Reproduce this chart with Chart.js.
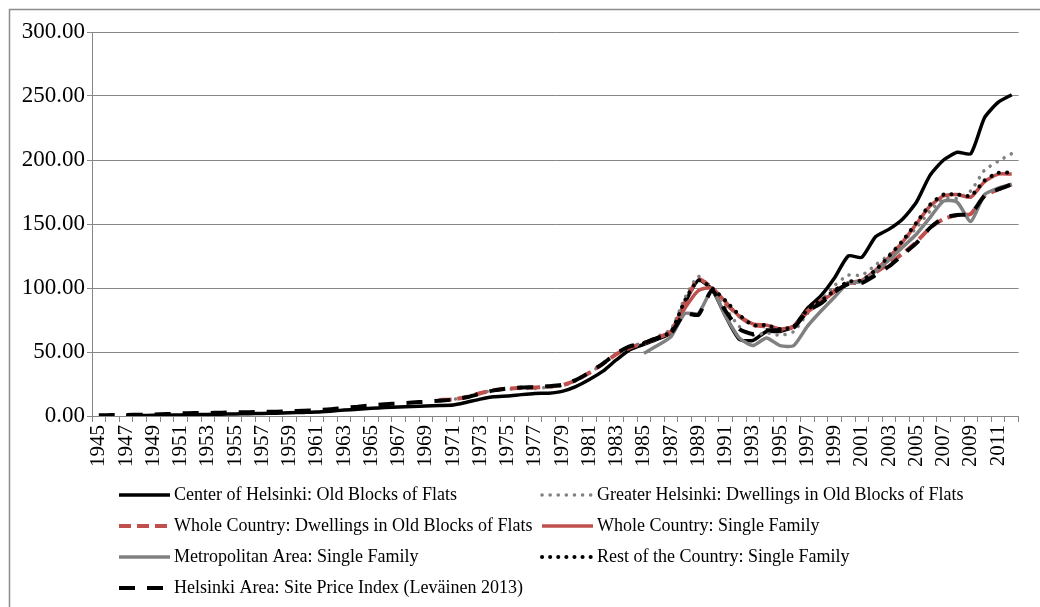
<!DOCTYPE html>
<html>
<head>
<meta charset="utf-8">
<script src="https://cdn.jsdelivr.net/npm/chart.js@4.4.1/dist/chart.umd.min.js"></script>
<style>
  html, body { margin: 0; padding: 0; background: #fff; }
  #wrap { width: 1040px; height: 607px; position: relative; }
</style>
</head>
<body>
<div id="wrap"><canvas id="priceChart" width="1040" height="607"></canvas></div>
<script>
// year categories on the x axis
const years = [
  '1945','1946','1947','1948','1949','1950','1951','1952','1953','1954',
  '1955','1956','1957','1958','1959','1960','1961','1962','1963','1964',
  '1965','1966','1967','1968','1969','1970','1971','1972','1973','1974',
  '1975','1976','1977','1978','1979','1980','1981','1982','1983','1984',
  '1985','1986','1987','1988','1989','1990','1991','1992','1993','1994',
  '1995','1996','1997','1998','1999','2000','2001','2002','2003','2004',
  '2005','2006','2007','2008','2009','2010','2011','2012'
];

// Center of Helsinki, 1947-2012
const centerHelsinki = [
  0.3, 0.4, 0.5, 0.6, 0.8, 1.0, 1.2, 1.4, 1.6, 1.8,
  2.0, 2.2, 2.5, 2.8, 3.1, 3.8, 4.6, 5.3, 6.0, 6.6,
  7.1, 7.5, 7.9, 8.2, 8.6, 10.8, 13.2, 15.0, 15.6, 16.7,
  17.6, 17.8, 19.2, 23.0, 28.5, 35.0, 44.0, 52.0, 56.0, 60.0,
  65, 88, 106, 99, 78, 60, 59, 66, 66, 70,
  84, 94, 108, 125, 124, 140, 146, 154, 167, 188,
  200, 206, 205, 233, 245, 251
];

// Greater Helsinki dwellings, 1970-2012
const greaterHelsinki = [
  12.5, 13.0, 15.0, 18.0, 20.0, 21.0, 21.5, 21.5, 22.5, 23.5,
  27.5, 33.5, 41.0, 49.0, 54.0, 57.5, 62.0, 68.0, 92.0, 109.0,
  98, 84, 70, 63, 65, 63, 66, 80, 90, 102,
  110, 110, 118, 126, 136, 147, 160, 170, 170, 176,
  192, 199, 205
];

// Whole country dwellings in old blocks of flats, 1970-2012
const wholeCountryFlats = [
  12.5, 13.0, 14.8, 17.8, 20.2, 21.4, 22.0, 22.3, 23.0, 24.0,
  27.8, 33.8, 40.8, 48.5, 53.5, 57.0, 61.0, 66.0, 88.0, 107.0,
  100, 88, 78, 71, 70, 67, 70, 82, 90, 98,
  104, 104, 112, 119, 127, 136, 147, 154, 157, 158,
  172, 177, 181
];

// single family houses, 1985-2012
const wholeCountrySingle = [
  57, 61, 66, 84, 98, 100, 89, 78, 72, 71,
  68, 70, 81, 89, 97, 104, 106, 114, 124, 136,
  150, 164, 172, 173, 171, 183, 189, 189
];
const metroSingle = [
  49, 55, 62, 80, 80, 98, 78, 61, 55, 61,
  55, 55, 70, 82, 93, 104, 105, 113, 122, 132,
  142, 155, 168, 167, 152, 173, 178, 181
];
const restSingle = [
  57, 61, 66, 90, 106, 100, 90, 79, 71, 71,
  68, 70, 83, 90, 98, 105, 106, 114, 125, 137,
  151, 165, 173, 173, 172, 184, 190, 190
];

// Helsinki area site price index, 1945-2012
const siteIndex = [
  0.6, 0.7, 0.8, 1.0, 1.2, 1.5, 2.0, 2.3, 2.3, 2.6,
  2.8, 3.0, 3.2, 3.4, 3.8, 4.2, 4.6, 5.2, 6.4, 7.2,
  8.3, 9.2, 9.8, 10.5, 11.2, 12.0, 12.8, 14.6, 17.5, 20.0,
  21.5, 22.3, 22.6, 23.2, 24.3, 28.0, 34.0, 41.0, 49.0, 54.5,
  57, 61, 65, 80, 79, 98, 82, 68, 64, 67,
  67, 69, 82, 88, 97, 103, 104, 110, 117, 126,
  135, 147, 155, 157, 158, 172, 177, 181
];

const yTicks = [0, 50, 100, 150, 200, 250, 300];

const FONT = "'Liberation Serif', 'Times New Roman', serif";
const GRID = '#868686';
const RED = '#c0504d';
const GREY = '#808080';

// put a series on the full year axis, starting at its first year
function fromYear(start, values) {
  const pad = years.indexOf(String(start));
  return new Array(pad).fill(null).concat(values);
}

const seriesDefs = [
  { label: 'Center of Helsinki: Old Blocks of Flats', start: 1947, data: centerHelsinki,
    color: '#000', width: 3.5, dash: [], cap: 'butt' },
  { label: 'Greater Helsinki: Dwellings in Old Blocks of Flats', start: 1970, data: greaterHelsinki,
    color: GREY, width: 3.5, dash: [0.1, 8], cap: 'round' },
  { label: 'Whole Country: Dwellings in Old Blocks of Flats', start: 1970, data: wholeCountryFlats,
    color: RED, width: 4, dash: [12, 6], cap: 'butt' },
  { label: 'Whole Country: Single Family', start: 1985, data: wholeCountrySingle,
    color: RED, width: 3.5, dash: [], cap: 'butt' },
  { label: 'Metropolitan Area: Single Family', start: 1985, data: metroSingle,
    color: GREY, width: 3.5, dash: [], cap: 'butt' },
  { label: 'Rest of the Country: Single Family', start: 1985, data: restSingle,
    color: '#000', width: 4, dash: [0.1, 8], cap: 'round' },
  { label: 'Helsinki Area: Site Price Index (Leväinen 2013)', start: 1945, data: siteIndex,
    color: '#000', width: 4, dash: [16, 12], cap: 'butt' }
];

const datasets = seriesDefs.map((s, i) => ({
  label: s.label,
  data: fromYear(s.start, s.data),
  borderColor: s.color,
  borderWidth: s.width,
  borderDash: s.dash,
  borderCapStyle: s.cap,
  borderJoinStyle: 'round',
  fill: false,
  order: seriesDefs.length - i
}));

//========================
// outer frame + two column legend
//========================
const frameAndLegend = {
  id: 'frameAndLegend',
  beforeDraw(chart) {
    const ctx = chart.ctx;
    ctx.save();
    ctx.strokeStyle = '#8c8c8c';
    ctx.lineWidth = 1.5;
    ctx.strokeRect(9.5, 9.5, 1100, 700);
    ctx.restore();
  },
  afterDraw(chart) {
    const ctx = chart.ctx;
    const rows = [[0, 1], [2, 3], [4, 5], [6]];
    const colX = [117, 540];
    const rowY = [495, 526, 557, 588];
    ctx.save();
    ctx.font = '18px ' + FONT;
    ctx.textBaseline = 'middle';
    ctx.fillStyle = '#000';
    rows.forEach((row, r) => {
      row.forEach((idx, c) => {
        const ds = chart.data.datasets[idx];
        const x = colX[c];
        const y = rowY[r];
        ctx.save();
        ctx.strokeStyle = ds.borderColor;
        ctx.lineWidth = ds.borderWidth;
        ctx.lineCap = ds.borderCapStyle;
        ctx.setLineDash(ds.borderDash);
        ctx.beginPath();
        ctx.moveTo(x + 2, y);
        ctx.lineTo(x + 53, y);
        ctx.stroke();
        ctx.restore();
        ctx.fillText(ds.label, x + 57, y);
      });
    });
    ctx.restore();
  }
};

const ctx = document.getElementById('priceChart').getContext('2d');
new Chart(ctx, {
  type: 'line',
  data: { labels: years, datasets: datasets },
  plugins: [frameAndLegend],
  options: {
    responsive: false,
    animation: false,
    layout: { padding: { top: 32, right: 7, bottom: 131, left: 0 } },
    plugins: { legend: { display: false }, tooltip: { enabled: false } },
    elements: { point: { radius: 0 }, line: { tension: 0.2 } },
    scales: {
      x: {
        offset: true,
        grid: { offset: true, drawOnChartArea: false, drawTicks: true, tickLength: 6, color: GRID },
        border: { color: GRID },
        ticks: {
          autoSkip: false,
          maxRotation: 90,
          minRotation: 90,
          padding: 3,
          color: '#000',
          font: { family: FONT, size: 21 },
          callback: (v, i) => (i % 2 === 0 ? years[i] : '')
        },
        afterFit: s => { s.height = 60; }
      },
      y: {
        min: 0,
        max: 300,
        afterBuildTicks: s => { s.ticks = yTicks.map(v => ({ value: v })); },
        grid: { color: GRID, tickLength: 5 },
        border: { color: GRID },
        ticks: {
          padding: 2,
          color: '#000',
          font: { family: FONT, size: 23 },
          callback: v => v.toFixed(2)
        },
        afterFit: s => { s.width = 92; }
      }
    }
  }
});
</script>
</body>
</html>
